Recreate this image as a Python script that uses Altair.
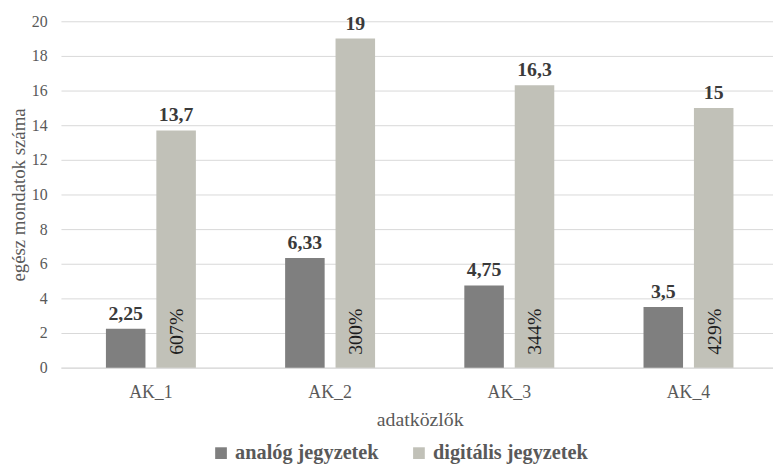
import altair as alt
import pandas as pd

categories = ["AK_1", "AK_2", "AK_3", "AK_4"]
series_names = ["analóg jegyzetek", "digitális jegyzetek"]
analog = [2.25, 6.33, 4.75, 3.5]
digital = [13.7, 19, 16.3, 15]
percents = ["607%", "300%", "344%", "429%"]
y_ticks = [0, 2, 4, 6, 8, 10, 12, 14, 16, 18, 20]

rows = []
for i, c in enumerate(categories):
    for s, vals in zip(series_names, [analog, digital]):
        v = vals[i]
        rows.append({
            "ak": c,
            "series": s,
            "value": v,
            "zero": 0,
            "label": f"{v:g}".replace(".", ","),
            "pct": percents[i] if s == series_names[1] else "",
        })
df = pd.DataFrame(rows)

FONT = "Liberation Serif"

x_enc = alt.X(
    "ak:N",
    sort=categories,
    scale=alt.Scale(range=[0, 725], paddingInner=0.498, paddingOuter=0.251),
    axis=alt.Axis(title="adatközlők", labelAngle=0, titleX=362.5),
)
xoff_enc = alt.XOffset(
    "series:N",
    sort=series_names,
    scale=alt.Scale(paddingInner=0.216, paddingOuter=0),
)
y_scale = alt.Scale(domain=[0, 20], nice=False, zero=True)
y_axis = alt.Axis(title="egész mondatok száma", values=y_ticks)

base = alt.Chart(df).encode(x=x_enc, xOffset=xoff_enc)

bars = base.mark_bar().encode(
    y=alt.Y("value:Q", scale=y_scale, axis=y_axis),
    color=alt.Color(
        "series:N",
        sort=series_names,
        scale=alt.Scale(domain=series_names, range=["#7f7f7f", "#c1c1b8"]),
        legend=alt.Legend(
            title=None,
            orient="none",
            direction="horizontal",
            legendX=151.5,
            legendY=426,
            symbolType="square",
            symbolSize=140,
            symbolStrokeWidth=0,
            labelFontSize=20.5,
            labelFontWeight="bold",
            labelColor="#595959",
            labelOffset=4,
            columnPadding=30,
        ),
    ),
)

values = base.mark_text(
    fontSize=20, fontWeight="bold", color="#3a3a3a",
    baseline="alphabetic", dy=-9,
).encode(y=alt.Y("value:Q", scale=y_scale, axis=y_axis), text="label:N")

pcts = base.mark_text(
    fontSize=20, color="#1e1e1e",
    angle=270, align="left", baseline="middle", dx=13, dy=1,
).encode(y=alt.Y("zero:Q", scale=y_scale, axis=y_axis), text="pct:N").transform_filter(
    alt.datum.series == series_names[1]
)

chart = (
    alt.layer(bars, values, pcts)
    .properties(
        width=719.5,
        height=350,
        autosize=alt.AutoSizeParams(type="none"),
        padding={"left": 53.5, "top": 11, "right": 0, "bottom": 102},
    )
    .configure(background="white", font=FONT)
    .configure_view(stroke="transparent", strokeWidth=0)
    .configure_axis(
        labelFont=FONT,
        titleFont=FONT,
        labelColor="#595959",
        titleColor="#595959",
        titleFontWeight="normal",
        ticks=False,
        tickSize=0,
        gridColor="#d9d9d9",
        gridWidth=1,
        domainColor="#d9d9d9",
        domainWidth=1,
        labelOverlap=False,
    )
    .configure_axisY(
        domain=False,
        grid=True,
        labelFontSize=16,
        labelPadding=14,
        titleFontSize=19,
        titlePadding=3,
    )
    .configure_axisX(
        domain=True,
        grid=False,
        labelFontSize=18,
        labelPadding=16,
        titleFontSize=20,
        titlePadding=8,
    )
    .configure_legend(labelFont=FONT)
    .configure_text(font=FONT)
)

chart.save("out.html", embed_options={"renderer": "svg", "actions": False})
